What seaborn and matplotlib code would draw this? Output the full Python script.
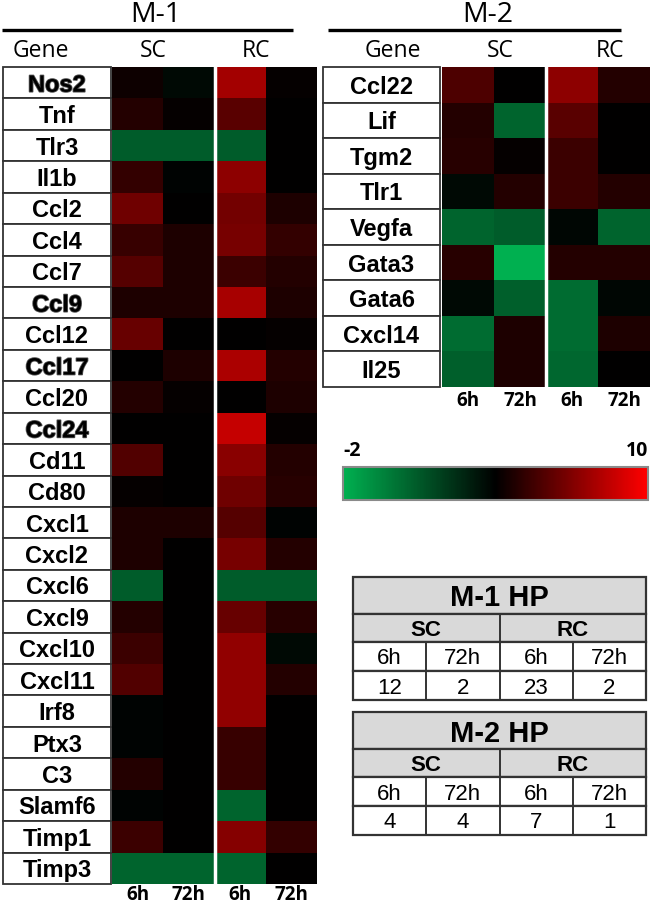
import numpy as np
import pandas as pd
import matplotlib
matplotlib.use("Agg")
import matplotlib.pyplot as plt
import seaborn as sns
from matplotlib.colors import LinearSegmentedColormap
from matplotlib.patches import Rectangle
from matplotlib.transforms import blended_transform_factory
import matplotlib.patheffects as pe

# ---- data (fold change, colour scale -2 .. 10, black at 4) ----
m1_genes = ["Nos2", "Tnf", "Tlr3", "Il1b", "Ccl2", "Ccl4", "Ccl7", "Ccl9", "Ccl12",
            "Ccl17", "Ccl20", "Ccl24", "Cd11", "Cd80", "Cxcl1", "Cxcl2", "Cxcl6",
            "Cxcl9", "Cxcl10", "Cxcl11", "Irf8", "Ptx3", "C3", "Slamf6", "Timp1", "Timp3"]
m1_sc_6h = [4.3, 4.8, 0.9, 5.2, 6.6, 5.3, 6.0, 4.7, 6.4, 4.0, 4.8, 4.0, 5.9,
            4.1, 4.7, 4.7, 0.9, 4.8, 5.4, 5.9, 3.9, 3.9, 4.8, 3.9, 5.4, 0.6]
m1_sc_72h = [3.7, 4.1, 0.9, 3.9, 4.0, 4.7, 4.7, 4.7, 4.0, 4.7, 4.1, 4.0, 4.0,
             4.0, 4.7, 4.0, 4.0, 4.0, 4.0, 4.0, 4.0, 4.0, 4.0, 4.0, 4.0, 0.6]
m1_rc_6h = [7.8, 6.1, 0.9, 7.3, 6.7, 6.8, 5.4, 7.9, 4.0, 8.0, 4.0, 8.6, 7.2,
            6.6, 6.0, 6.8, 0.9, 6.4, 7.4, 7.4, 7.4, 5.3, 5.3, 0.6, 7.1, 0.6]
m1_rc_72h = [4.1, 4.0, 4.0, 4.0, 4.7, 5.2, 4.8, 4.7, 4.1, 4.8, 4.7, 4.1, 4.8,
             4.9, 3.9, 4.8, 0.9, 4.9, 3.7, 4.8, 4.0, 4.0, 4.0, 4.0, 5.2, 4.0]
m1_outlined = ["Nos2", "Ccl9", "Ccl17", "Ccl24"]

m2_genes = ["Ccl22", "Lif", "Tgm2", "Tlr1", "Vegfa", "Gata3", "Gata6", "Cxcl14", "Il25"]
m2_sc_6h = [5.8, 4.8, 4.9, 3.7, 0.6, 4.9, 3.7, 0.3, 0.8]
m2_sc_72h = [4.0, 0.6, 4.1, 4.8, 0.9, -2.0, 0.8, 4.7, 4.7]
m2_rc_6h = [7.3, 6.1, 5.4, 5.4, 3.8, 4.8, 0.3, 0.3, 0.5]
m2_rc_72h = [4.8, 4.0, 4.0, 4.8, 0.6, 4.8, 3.8, 4.7, 4.0]

time_labels = ["6h", "72h", "6h", "72h"]
hp_m1 = [12, 2, 23, 2]
hp_m2 = [4, 4, 7, 1]

cols = ["SC_6h", "SC_72h", "RC_6h", "RC_72h"]
df1 = pd.DataFrame(dict(zip(cols, [m1_sc_6h, m1_sc_72h, m1_rc_6h, m1_rc_72h])), index=m1_genes)
df2 = pd.DataFrame(dict(zip(cols, [m2_sc_6h, m2_sc_72h, m2_rc_6h, m2_rc_72h])), index=m2_genes)

cmap = LinearSegmentedColormap.from_list("gbr", ["#00b050", "#000000", "#ff0000"])

W, H = 653, 909
fig = plt.figure(figsize=(W / 100, H / 100), dpi=100)


def px_axes(x0, y0, x1, y1):
    return fig.add_axes([x0 / W, 1 - y1 / H, (x1 - x0) / W, (y1 - y0) / H])


# overlay in pixel coordinates for headers, boxes and tables
ov = fig.add_axes([0, 0, 1, 1])
ov.set_xlim(0, W)
ov.set_ylim(H, 0)
ov.axis("off")

head = dict(family="Open Sans", color="black")
lab_font = dict(family="Liberation Sans", weight="bold", size=17)


def heat_block(df, box, label_x0, label_x1, outlined=(), pad=4):
    ax = px_axes(*box)
    sns.heatmap(df, ax=ax, cmap=cmap, vmin=-2, vmax=10, cbar=False,
                xticklabels=time_labels, yticklabels=False)
    ax.axvline(2, color="white", lw=2.5)
    ax.tick_params(axis="x", length=0, pad=pad)
    for t in ax.get_xticklabels():
        t.set_fontfamily("Open Sans")
        t.set_fontweight("bold")
        t.set_fontsize(13.5)
    tr = blended_transform_factory(ov.transData, ax.transData)
    for i, g in enumerate(df.index):
        ax.add_patch(Rectangle((label_x0, i), label_x1 - label_x0, 1, transform=tr,
                               clip_on=False, fc="white", ec="#333333", lw=1.3))
        txt = ax.text((label_x0 + label_x1) / 2, i + 0.5, g, transform=tr,
                      ha="center", va="center_baseline", **lab_font)
        if g in outlined:
            txt.set_path_effects([pe.withStroke(linewidth=1.2, foreground="#555555")])
    return ax


ax1 = heat_block(df1, (112, 67, 317, 884), 3, 111, m1_outlined, pad=0.5)
ax2 = heat_block(df2, (442, 67, 650, 387), 323, 440, pad=3)

# headers
ov.text(156, 15, "M-1", ha="center", va="center", size=20.5, **head)
ov.text(488, 15, "M-2", ha="center", va="center", size=20.5, **head)
ov.plot([2, 293], [30, 30], color="black", lw=2.4, solid_capstyle="butt")
ov.plot([328, 621], [30, 30], color="black", lw=2.4, solid_capstyle="butt")
for x, s in [(41, "Gene"), (153, "SC"), (256, "RC"), (393, "Gene"), (500, "SC"), (610, "RC")]:
    ov.text(x, 57, s, ha="center", va="baseline", size=16.5, **head)

# colour bar
cax = px_axes(343, 467, 648, 500)
fig.colorbar(ax2.collections[0], cax=cax, orientation="horizontal", ticks=[-2, 10])
cax.xaxis.set_ticks_position("top")
cax.tick_params(axis="x", length=0, pad=4)
cax.set_xticklabels(["-2", "10"])
lbls = cax.get_xticklabels()
lbls[0].set_ha("left")
lbls[1].set_ha("right")
for t in lbls:
    t.set_fontfamily("Open Sans")
    t.set_fontweight("bold")
    t.set_fontsize(14)
for sp in cax.spines.values():
    sp.set_edgecolor("#8a8a8a")
    sp.set_linewidth(1.5)


# HP tables
def hp_table(y0, title, values):
    x0, x1 = 353, 646
    xm = (x0 + x1) / 2
    xq = [x0, (x0 + xm) / 2, xm, (xm + x1) / 2, x1]
    hs = [37, 28, 29, 29]
    ys = np.cumsum([y0] + hs)
    ec = "#333333"
    for k in range(4):
        fc = "#d9d9d9" if k < 2 else "white"
        ov.add_patch(Rectangle((x0, ys[k]), x1 - x0, hs[k], fc=fc, ec=ec, lw=1.6))
    ov.plot([xm, xm], [ys[1], ys[4]], color=ec, lw=1.4)
    for xx in (xq[1], xq[3]):
        ov.plot([xx, xx], [ys[2], ys[4]], color=ec, lw=1.4)
    ov.text(xm, (ys[0] + ys[1]) / 2, title, ha="center", va="center_baseline",
            family="Liberation Sans", weight="bold", size=21)
    for cx, s in [((x0 + xm) / 2, "SC"), ((xm + x1) / 2, "RC")]:
        ov.text(cx, (ys[1] + ys[2]) / 2, s, ha="center", va="center_baseline",
                family="Liberation Sans", weight="bold", size=16)
    for j in range(4):
        cx = (xq[j] + xq[j + 1]) / 2
        ov.text(cx, (ys[2] + ys[3]) / 2, time_labels[j], ha="center", va="center_baseline",
                family="Liberation Sans", size=16)
        ov.text(cx, (ys[3] + ys[4]) / 2, str(values[j]), ha="center", va="center_baseline",
                family="Liberation Sans", size=16)


hp_table(577, "M-1 HP", hp_m1)
hp_table(712, "M-2 HP", hp_m2)

fig.savefig("out.png", dpi=100)
